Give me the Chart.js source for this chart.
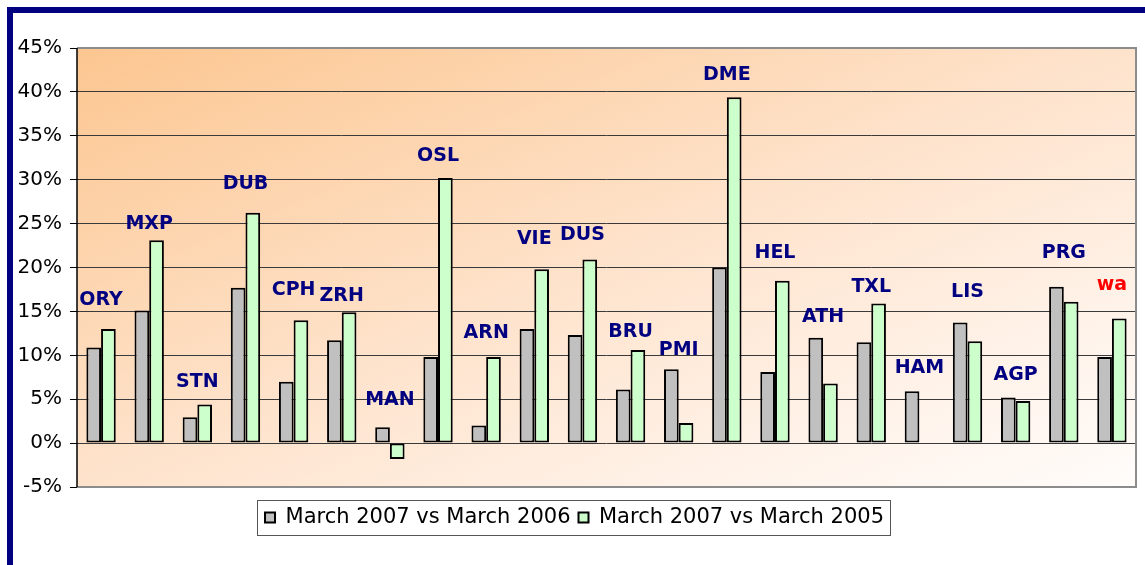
<!DOCTYPE html>
<html>
<head>
<meta charset="utf-8">
<script src="https://cdn.jsdelivr.net/npm/chart.js@4.4.0/dist/chart.umd.min.js"></script>
<style>
  html, body { margin: 0; padding: 0; background: #fff; overflow: hidden; }
  #frame { position: absolute; left: 7px; top: 7px; width: 1138px; height: 558px;
           border-left: 6px solid #000080; border-top: 6px solid #000080; }
  #wrap { position: absolute; left: 13px; top: 13px; width: 1132px; height: 552px; }
</style>
</head>
<body>
<div id="frame"></div>
<div id="wrap"><canvas id="chart"></canvas></div>
<script>
// airport codes and growth in %
const airports = ['ORY','MXP','STN','DUB','CPH','ZRH','MAN','OSL','ARN','VIE','DUS','BRU','PMI','DME','HEL','ATH','TXL','HAM','LIS','AGP','PRG','wa'];
const vs2006 = [10.9, 15.1, 2.95, 17.7, 7.0, 11.7, 1.8, 9.8, 2.0, 13.0, 12.3, 6.1, 8.4, 20.0, 8.1, 12.0, 11.5, 5.9, 13.75, 5.2, 17.8, 9.8];
const vs2005 = [13.0, 23.1, 4.4, 26.25, 14.0, 14.9, -1.8, 30.2, 9.8, 19.8, 20.9, 10.6, 2.3, 39.4, 18.5, 6.8, 15.9, null, 11.6, 4.8, 16.1, 14.2];
// height (in %) at which each airport code is written
const labelLevels = [16.25, 24.9, 6.9, 29.5, 17.4, 16.7, 4.9, 32.7, 12.5, 23.2, 23.75, 12.6, 10.6, 41.9, 21.7, 14.4, 17.8, 8.5, 17.2, 7.8, 21.7, 18.0];
const seriesNames = ['March 2007 vs March 2006', 'March 2007 vs March 2005'];
const yMin = -5, yMax = 45, yStep = 5;

const plotBg = {
  id: 'plotBg',
  beforeDraw(chart) {
    const { ctx, chartArea: a } = chart;
    const w = a.right - a.left, h = a.bottom - a.top;
    const d = 2 * w * h / Math.hypot(w, h);
    const n = Math.hypot(w, h);
    const g = ctx.createLinearGradient(a.left, a.top, a.left + h * d / n, a.top + w * d / n);
    g.addColorStop(0, '#fcc690');
    g.addColorStop(0.5, '#fee3cc');
    g.addColorStop(0.8, '#fff3ea');
    g.addColorStop(1, '#fffcfa');
    ctx.save();
    ctx.fillStyle = g;
    ctx.fillRect(a.left, a.top, w, h);
    ctx.restore();
  },
  afterDraw(chart) {
    const { ctx, chartArea: a } = chart;
    ctx.save();
    ctx.strokeStyle = '#8c8c8c';
    ctx.lineWidth = 2;
    ctx.beginPath();
    ctx.moveTo(a.left, a.top);
    ctx.lineTo(a.right, a.top);
    ctx.lineTo(a.right, a.bottom);
    ctx.lineTo(a.left, a.bottom);
    ctx.stroke();
    ctx.strokeStyle = '#000';
    ctx.lineWidth = 1.5;
    ctx.beginPath();
    ctx.moveTo(a.left, a.top);
    ctx.lineTo(a.left, a.bottom);
    ctx.stroke();
    // legend frame
    const boxes = chart.legend.legendHitBoxes;
    if (boxes && boxes.length) {
      const l = Math.min(...boxes.map(b => b.left)) - 8;
      const r = Math.max(...boxes.map(b => b.left + b.width)) + 6;
      const t = boxes[0].top - 7;
      const h = boxes[0].height + 14;
      ctx.strokeStyle = '#555';
      ctx.lineWidth = 1;
      ctx.strokeRect(Math.round(l) + 0.5, Math.round(t) + 0.5, Math.round(r - l), Math.round(h));
    }
    ctx.restore();
  }
};

const codeLabels = {
  id: 'codeLabels',
  afterDatasetsDraw(chart) {
    const { ctx, scales: { x, y } } = chart;
    ctx.save();
    ctx.font = 'bold 19px "DejaVu Sans", Verdana, sans-serif';
    ctx.textAlign = 'center';
    ctx.textBaseline = 'middle';
    airports.forEach((code, i) => {
      ctx.fillStyle = code === 'wa' ? '#ff0000' : '#000080';
      ctx.fillText(code, x.getPixelForValue(i), y.getPixelForValue(labelLevels[i]));
    });
    ctx.restore();
  }
};

new Chart(document.getElementById('chart'), {
  type: 'bar',
  data: {
    labels: airports,
    datasets: [
      { label: seriesNames[0], data: vs2006, backgroundColor: '#c0c0c0', borderColor: '#000', borderWidth: 2, borderSkipped: false },
      { label: seriesNames[1], data: vs2005, backgroundColor: '#ccffcc', borderColor: '#000', borderWidth: 2, borderSkipped: false }
    ]
  },
  options: {
    responsive: true,
    maintainAspectRatio: false,
    animation: false,
    categoryPercentage: 0.61,
    barPercentage: 1.0,
    layout: { padding: { left: 0, right: 9, top: 35, bottom: 27 } },
    plugins: {
      tooltip: { enabled: false },
      legend: {
        position: 'bottom',
        labels: {
          color: '#000',
          font: { family: '"DejaVu Sans", Verdana, sans-serif', size: 21 },
          boxWidth: 10,
          boxHeight: 10,
          padding: 8
        }
      }
    },
    scales: {
      x: {
        grid: { display: false },
        border: { display: false },
        ticks: { display: false },
        afterFit: s => { s.height = 12; }
      },
      y: {
        min: yMin,
        max: yMax,
        afterFit: s => { s.width = 64; },
        ticks: {
          stepSize: yStep,
          padding: 8,
          color: '#000',
          font: { family: '"DejaVu Sans", Verdana, sans-serif', size: 20 },
          callback: v => v + '%'
        },
        grid: {
          color: '#3a3a3a',
          lineWidth: 1,
          tickLength: 7,
          tickColor: '#000'
        },
        border: { display: false }
      }
    }
  },
  plugins: [plotBg, codeLabels]
});
</script>
</body>
</html>
